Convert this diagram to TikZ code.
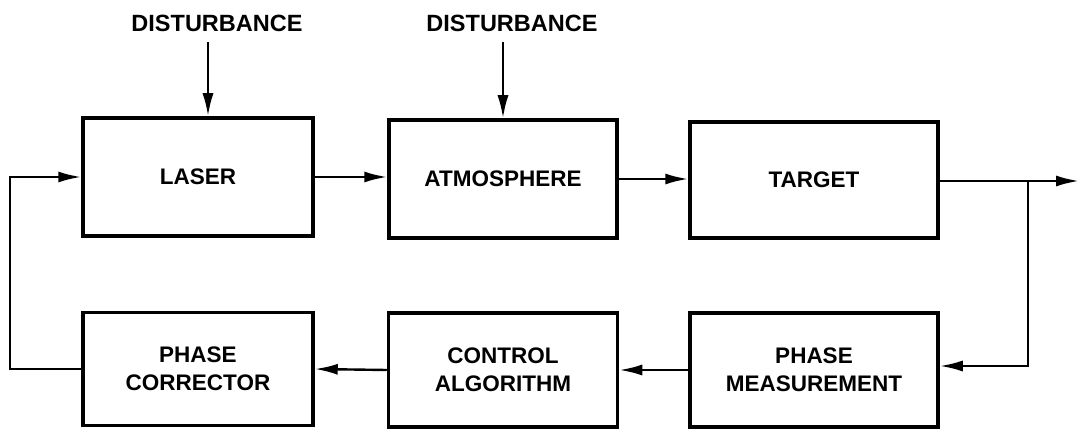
\documentclass[tikz,border=0pt]{standalone}
\usepackage{fontspec}
\setmainfont{Liberation Sans}
\usetikzlibrary{arrows.meta}
\begin{document}
\begin{tikzpicture}[x=1pt,y=-1pt,
  blk/.style={draw, line width=3.5pt, rectangle, inner sep=0pt, align=center, font=\bfseries\fontsize{22.5}{28}\selectfont},
  lbl/.style={font=\bfseries\fontsize{23.5}{26}\selectfont, inner sep=0pt},
  conn/.style={line width=2.4pt},
  arr/.style={conn, -{Latex[length=23pt,width=11pt]}}]
\useasboundingbox (0,0) rectangle (1079,430);
\node[blk, minimum width=230pt, minimum height=118pt] (laser) at (198,177) {LASER};
\node[blk, minimum width=228pt, minimum height=118pt] (atmos) at (503,179) {ATMOSPHERE};
\node[blk, minimum width=248pt, minimum height=116pt] (target) at (814,180) {TARGET};
\node[blk, minimum width=230pt, minimum height=113pt] (pc) at (198,369) {PHASE\\CORRECTOR};
\node[blk, minimum width=229pt, minimum height=114pt] (ca) at (503,370) {CONTROL\\ALGORITHM};
\node[blk, minimum width=248pt, minimum height=114pt] (pm) at (814,370) {PHASE\\MEASUREMENT};
\node[lbl] (dist1) at (217,23) {DISTURBANCE};
\node[lbl] (dist2) at (512,23) {DISTURBANCE};
\coordinate (d1) at (208,42);
\coordinate (d2) at (503,42);
\coordinate (outend) at (1079,181);
\coordinate (br) at (1028,181);
\draw[arr] (d1) -- (d1 |- laser.north);
\draw[arr] (d2) -- (d2 |- atmos.north);
\draw[arr] (laser.east) -- (laser.east -| atmos.west);
\draw[arr] (atmos.east) -- (atmos.east -| target.west);
\draw[arr] (target.east |- outend) -- (outend);
\draw[arr] (br) |- ([yshift=4pt]pm.east);
\draw[arr] (pm.west) -- (ca.east);
\draw[arr] (ca.west) -- (pc.east);
\draw[arr] (pc.west) -- ++(-71,0) |- (laser.west);
\end{tikzpicture}
\end{document}
